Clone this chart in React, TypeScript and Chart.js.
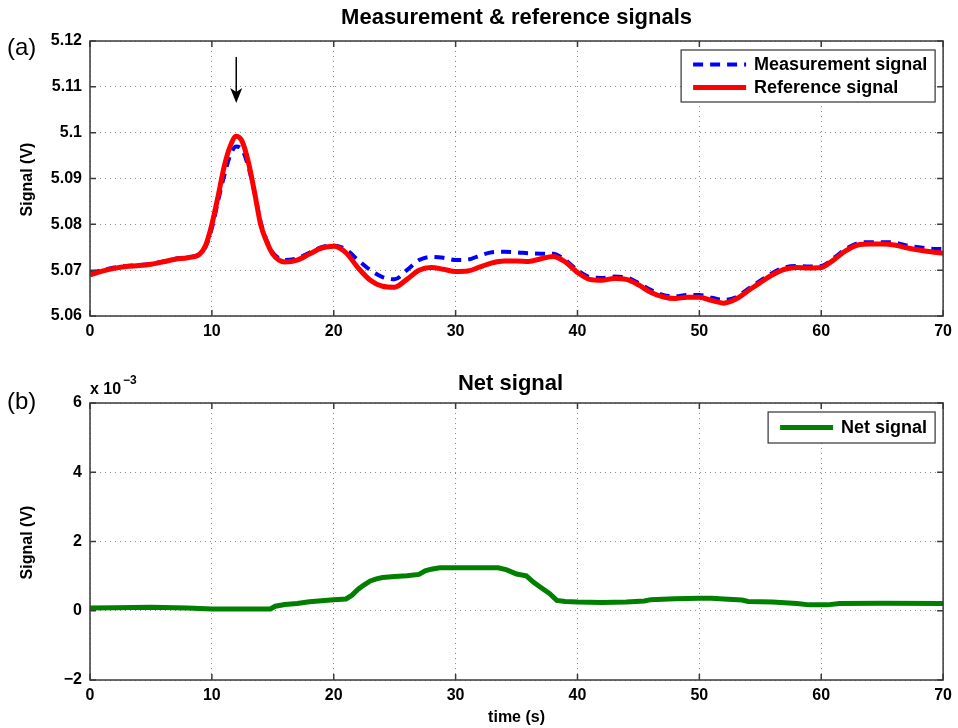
import React, { useEffect, useRef } from "react";
import { Chart, registerables } from "chart.js";

Chart.register(...registerables);

// ---------- data ----------
const timeTop = [
  0, 1, 2, 3, 4, 5, 6, 7, 8, 9,
  9.5, 10, 10.5, 11, 11.5, 12, 12.5, 13, 13.5, 14, 14.5, 15, 15.5,
  16, 17, 18, 19, 20, 21, 22, 23, 24, 25,
  26, 27, 28, 29, 30, 31, 32, 33, 34, 35,
  36, 37, 38, 39, 40, 41, 42, 43, 44, 45,
  46, 47, 48, 49, 50, 51, 52, 53, 54, 55,
  56, 57, 58, 59, 60, 61, 62, 63, 64, 65,
  66, 67, 68, 69, 70,
];

const referenceSignal = [
  5.069, 5.0698, 5.0704, 5.0708, 5.071, 5.0713, 5.0718, 5.0724, 5.0727, 5.0735,
  5.0755, 5.08, 5.086, 5.0925, 5.097, 5.0992, 5.098, 5.0935, 5.087, 5.08, 5.0762, 5.0735, 5.0722,
  5.0718, 5.0722, 5.0735, 5.0748, 5.0752, 5.0738, 5.0705, 5.0678, 5.0665, 5.0663,
  5.068, 5.07, 5.0706, 5.0702, 5.0697, 5.0698, 5.0707, 5.0716, 5.072, 5.072,
  5.0719, 5.0725, 5.073, 5.0718, 5.0695, 5.068, 5.0678, 5.0682, 5.068, 5.0668,
  5.0652, 5.0642, 5.0638, 5.0641, 5.0641, 5.0634, 5.0628, 5.0637, 5.0655, 5.0673,
  5.069, 5.0702, 5.0706, 5.0705, 5.0706, 5.0722, 5.0742, 5.0755, 5.0757, 5.0757,
  5.0755, 5.0749, 5.0744, 5.074, 5.0737,
];

const measurementSignal = [
  5.0693, 5.07, 5.0706, 5.0709, 5.0711, 5.0714, 5.0719, 5.0725, 5.0728, 5.0735,
  5.0752, 5.0792, 5.085, 5.0905, 5.095, 5.097, 5.0962, 5.0925, 5.087, 5.0805, 5.0765, 5.0738, 5.0726,
  5.0722, 5.0726, 5.0738, 5.075, 5.0754, 5.0745, 5.0722, 5.07, 5.0685, 5.068,
  5.07, 5.0722, 5.0729, 5.0727, 5.0722, 5.0723, 5.0732, 5.0739, 5.074, 5.0739,
  5.0737, 5.0736, 5.0736, 5.0722, 5.07, 5.0685, 5.0683, 5.0686, 5.0684, 5.0672,
  5.0657, 5.0646, 5.0643, 5.0646, 5.0646, 5.064, 5.0635, 5.0641, 5.0659, 5.0677,
  5.0694, 5.0706, 5.0709, 5.0708, 5.0709, 5.0726, 5.0746, 5.0759, 5.0761, 5.0761,
  5.076, 5.0754, 5.075, 5.0747, 5.0746,
];

const timeNet = [
  0, 2, 5, 8, 10,
  14.8, 15.2, 16, 17, 18, 19, 20, 21, 21.5, 22,
  22.5, 23, 23.5, 24, 25, 26, 27, 27.5, 28, 28.7,
  30, 33.5, 34.2, 35, 35.8, 36.4, 37.2, 37.7, 38.3, 39,
  40, 42, 44, 45.5, 46, 48, 50, 51, 52, 53.5,
  54, 56, 58, 59, 60.5, 61.5, 65, 70,
];

// volts
const netSignal = [
  0.08e-3, 0.09e-3, 0.1e-3, 0.08e-3, 0.05e-3,
  0.05e-3, 0.13e-3, 0.18e-3, 0.21e-3, 0.26e-3, 0.29e-3, 0.32e-3, 0.34e-3, 0.45e-3, 0.62e-3,
  0.75e-3, 0.86e-3, 0.92e-3, 0.96e-3, 0.99e-3, 1.01e-3, 1.05e-3, 1.15e-3, 1.2e-3, 1.24e-3,
  1.24e-3, 1.24e-3, 1.18e-3, 1.06e-3, 1.01e-3, 0.82e-3, 0.62e-3, 0.5e-3, 0.3e-3, 0.27e-3,
  0.25e-3, 0.24e-3, 0.25e-3, 0.28e-3, 0.32e-3, 0.35e-3, 0.36e-3, 0.36e-3, 0.34e-3, 0.31e-3,
  0.27e-3, 0.25e-3, 0.21e-3, 0.17e-3, 0.17e-3, 0.21e-3, 0.22e-3, 0.21e-3,
];

const xTicks = [0, 10, 20, 30, 40, 50, 60, 70];
const topYTicks = [5.06, 5.07, 5.08, 5.09, 5.1, 5.11, 5.12];
const netYTicks = [-2e-3, 0, 2e-3, 4e-3, 6e-3];

const topTitle = "Measurement & reference signals";
const netTitle = "Net signal";
const yTitle = "Signal (V)";
const xTitle = "time (s)";
const legendTop = ["Measurement signal", "Reference signal"];
const legendNet = ["Net signal"];
const arrowAt = { x: 12, yFrom: 5.1165, yTo: 5.1065 };

// ---------- styling ----------
const FONT = '"Liberation Sans", Arial, Helvetica, sans-serif';
const AXIS_COLOR = "#3a3a3a";
const GRID_COLOR = "#8a8a8a";
const W = 958;

function pts(xs: number[], ys: number[]) {
  return xs.map((x, i) => ({ x, y: ys[i] }));
}

function drawFrame(chart: any, yTicks: number[]) {
  const { ctx, chartArea: a, scales } = chart;
  ctx.save();
  ctx.strokeStyle = AXIS_COLOR;
  ctx.lineWidth = 1.5;
  ctx.strokeRect(a.left, a.top, a.right - a.left, a.bottom - a.top);
  const L = 6;
  ctx.beginPath();
  xTicks.forEach((v) => {
    const x = scales.x.getPixelForValue(v);
    ctx.moveTo(x, a.bottom);
    ctx.lineTo(x, a.bottom - L);
    ctx.moveTo(x, a.top);
    ctx.lineTo(x, a.top + L);
  });
  yTicks.forEach((v) => {
    const y = scales.y.getPixelForValue(v);
    ctx.moveTo(a.left, y);
    ctx.lineTo(a.left + L, y);
    ctx.moveTo(a.right, y);
    ctx.lineTo(a.right - L, y);
  });
  ctx.stroke();
  ctx.restore();
}

function drawYTitle(ctx: CanvasRenderingContext2D, x: number, y: number) {
  ctx.save();
  ctx.translate(x, y);
  ctx.rotate(-Math.PI / 2);
  ctx.font = `bold 16px ${FONT}`;
  ctx.fillStyle = "#000";
  ctx.textAlign = "center";
  ctx.textBaseline = "middle";
  ctx.fillText(yTitle, 0, 0);
  ctx.restore();
}

function drawText(
  ctx: CanvasRenderingContext2D,
  text: string,
  x: number,
  y: number,
  font: string,
  align: CanvasTextAlign = "center"
) {
  ctx.save();
  ctx.font = font;
  ctx.fillStyle = "#000";
  ctx.textAlign = align;
  ctx.textBaseline = "middle";
  ctx.fillText(text, x, y);
  ctx.restore();
}

type LegendItem = { label: string; color: string; width: number; dash: number[] };

function drawLegend(chart: any, items: LegendItem[], boxW: number, rowH: number) {
  const { ctx, chartArea: a } = chart;
  const right = a.right - 8;
  const top = a.top + 9;
  const h = rowH * items.length + 6;
  const left = right - boxW;
  ctx.save();
  ctx.fillStyle = "#fff";
  ctx.fillRect(left, top, boxW, h);
  ctx.strokeStyle = "#333";
  ctx.lineWidth = 1.2;
  ctx.strokeRect(left, top, boxW, h);
  items.forEach((it, i) => {
    const cy = top + 3 + rowH * (i + 0.5);
    ctx.beginPath();
    ctx.strokeStyle = it.color;
    ctx.lineWidth = it.width;
    ctx.setLineDash(it.dash);
    ctx.moveTo(left + 12, cy);
    ctx.lineTo(left + 65, cy);
    ctx.stroke();
    ctx.setLineDash([]);
    ctx.font = `bold 18px ${FONT}`;
    ctx.fillStyle = "#000";
    ctx.textAlign = "left";
    ctx.textBaseline = "middle";
    ctx.fillText(it.label, left + 73, cy + 1);
  });
  ctx.restore();
}

function baseScales(yMin: number, yMax: number, yTicks: number[], xAxisH: number, fmt: (v: number) => string) {
  const tickFont = { family: FONT, size: 16, weight: "bold" as const };
  return {
    x: {
      type: "linear" as const,
      min: 0,
      max: 70,
      afterBuildTicks: (s: any) => {
        s.ticks = xTicks.map((v) => ({ value: v }));
      },
      afterFit: (s: any) => {
        s.height = xAxisH;
      },
      ticks: { font: tickFont, color: "#000", padding: 6, maxRotation: 0, callback: (v: any) => String(v) },
      grid: { color: GRID_COLOR, lineWidth: 1, drawTicks: false },
      border: { display: false, dash: [1, 4] },
    },
    y: {
      type: "linear" as const,
      min: yMin,
      max: yMax,
      afterBuildTicks: (s: any) => {
        s.ticks = yTicks.map((v) => ({ value: v }));
      },
      afterFit: (s: any) => {
        s.width = 90;
      },
      ticks: { font: tickFont, color: "#000", padding: 8, callback: (v: any) => fmt(Number(v)) },
      grid: { color: GRID_COLOR, lineWidth: 1, drawTicks: false },
      border: { display: false, dash: [1, 4] },
    },
  };
}

export default function App() {
  const topRef = useRef<HTMLCanvasElement>(null);
  const botRef = useRef<HTMLCanvasElement>(null);

  useEffect(() => {
    const topDecor = {
      id: "topDecor",
      afterDatasetsDraw(chart: any) {
        const { ctx, chartArea: a, scales } = chart;
        drawFrame(chart, topYTicks);
        // arrow
        const ax = scales.x.getPixelForValue(arrowAt.x);
        const y1 = scales.y.getPixelForValue(arrowAt.yFrom);
        const y2 = scales.y.getPixelForValue(arrowAt.yTo);
        ctx.save();
        ctx.strokeStyle = "#000";
        ctx.fillStyle = "#000";
        ctx.lineWidth = 1.5;
        ctx.beginPath();
        ctx.moveTo(ax, y1);
        ctx.lineTo(ax, y2 - 8);
        ctx.stroke();
        ctx.beginPath();
        ctx.moveTo(ax, y2);
        ctx.lineTo(ax - 6, y2 - 15);
        ctx.lineTo(ax, y2 - 11);
        ctx.lineTo(ax + 6, y2 - 15);
        ctx.closePath();
        ctx.fill();
        ctx.restore();
        drawLegend(
          chart,
          [
            { label: legendTop[0], color: "#0000ff", width: 4, dash: [10, 7] },
            { label: legendTop[1], color: "#ff0000", width: 5, dash: [] },
          ],
          254,
          23
        );
        drawText(ctx, topTitle, (a.left + a.right) / 2, 18, `bold 22px ${FONT}`);
        drawText(ctx, "(a)", 7, 48, `24px ${FONT}`, "left");
        drawYTitle(ctx, 28, (a.top + a.bottom) / 2 + 1);
      },
    };

    const botDecor = {
      id: "botDecor",
      afterDatasetsDraw(chart: any) {
        const { ctx, chartArea: a } = chart;
        drawFrame(chart, netYTicks);
        drawLegend(chart, [{ label: legendNet[0], color: "#007f00", width: 5, dash: [] }], 167, 25);
        drawText(ctx, netTitle, (a.left + a.right) / 2 - 6, 34, `bold 22px ${FONT}`);
        drawText(ctx, "(b)", 7, 52, `24px ${FONT}`, "left");
        drawYTitle(ctx, 28, (a.top + a.bottom) / 2 + 1);
        drawText(ctx, xTitle, (a.left + a.right) / 2, 368, `bold 16px ${FONT}`);
        drawText(ctx, "x 10", 90, 40, `bold 16px ${FONT}`, "left");
        drawText(ctx, "\u22123", 123, 31, `bold 12px ${FONT}`, "left");
      },
    };

    const top = new Chart(topRef.current!, {
      type: "line",
      data: {
        datasets: [
          {
            label: legendTop[0],
            data: pts(timeTop, measurementSignal),
            borderColor: "#0000ff",
            borderWidth: 4,
            borderDash: [10, 7],
            pointRadius: 0,
            cubicInterpolationMode: "monotone",
            order: 1,
          },
          {
            label: legendTop[1],
            data: pts(timeTop, referenceSignal),
            borderColor: "#ff0000",
            borderWidth: 5,
            pointRadius: 0,
            cubicInterpolationMode: "monotone",
            order: 0,
          },
        ],
      },
      options: {
        responsive: false,
        animation: false,
        devicePixelRatio: 1,
        layout: { padding: { top: 41, right: 13, left: 0, bottom: 0 } },
        plugins: { legend: { display: false }, tooltip: { enabled: false } },
        scales: baseScales(5.06, 5.12, topYTicks, 34, (v) => String(parseFloat(v.toFixed(4)))),
      } as any,
      plugins: [topDecor],
    });

    const bot = new Chart(botRef.current!, {
      type: "line",
      data: {
        datasets: [
          {
            label: legendNet[0],
            data: pts(timeNet, netSignal),
            borderColor: "#007f00",
            borderWidth: 5,
            pointRadius: 0,
            tension: 0,
          },
        ],
      },
      options: {
        responsive: false,
        animation: false,
        devicePixelRatio: 1,
        layout: { padding: { top: 53, right: 13, left: 0, bottom: 0 } },
        plugins: { legend: { display: false }, tooltip: { enabled: false } },
        scales: baseScales(-2e-3, 6e-3, netYTicks, 48, (v) => {
          const n = Math.round(v * 1000);
          return n < 0 ? "\u2212" + Math.abs(n) : String(n);
        }),
      } as any,
      plugins: [botDecor],
    });

    return () => {
      top.destroy();
      bot.destroy();
    };
  }, []);

  return (
    <div style={{ position: "absolute", left: 0, top: 0, width: W, height: 728, background: "#fff" }}>
      <canvas ref={topRef} width={W} height={350} style={{ position: "absolute", left: 0, top: 0 }} />
      <canvas ref={botRef} width={W} height={378} style={{ position: "absolute", left: 0, top: 350 }} />
    </div>
  );
}
